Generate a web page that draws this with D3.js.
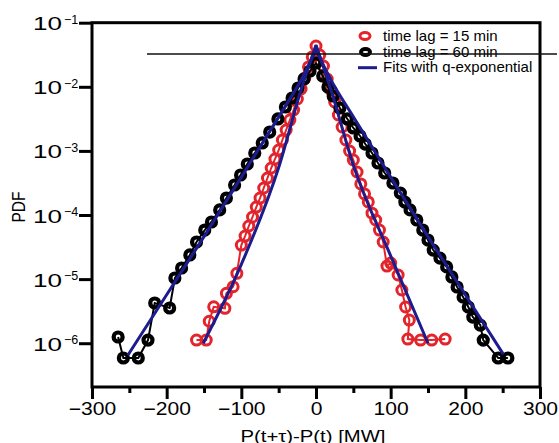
<!DOCTYPE html>
<html><head><meta charset="utf-8">
<script src="https://cdn.jsdelivr.net/npm/d3@7/dist/d3.min.js"></script>
<style>
body{margin:0;background:#fff}
svg{display:block}
text{font-family:"Liberation Sans",Arial,Helvetica,sans-serif;fill:#000}
</style>
</head><body>
<svg id="c" width="559" height="443"></svg>
<script>
// ---------- data ----------
const xTicks = [-300, -200, -100, 0, 100, 200, 300];
const xMinorTicks = [-250, -150, -50, 50, 150, 250];
const yTicks = [1e-1, 1e-2, 1e-3, 1e-4, 1e-5, 1e-6];
const yTickExp = ["\u22121", "\u22122", "\u22123", "\u22124", "\u22125", "\u22126"];

// time lag = 15 min (red)
const lag15X = [-160, -147, -143, -137, -122, -120, -111, -106, -100, -95, -90, -85, -80, -75, -70, -65, -60, -55, -50, -45, -40, -35, -30, -25, -20, -15, -10, -5,
  0, 5, 10, 15, 20, 25, 30, 35, 40, 45, 50, 55, 60, 65, 70, 75, 80, 85, 90, 95, 100, 110, 115, 120, 125, 123, 140, 155, 173];
const lag15Y = [1.12e-6, 1.12e-6, 2.2e-6, 3.7e-6, 3.5e-6, 6.0e-6, 7.6e-6, 1.23e-5, 3.4e-5, 4.7e-5, 6.74e-5, 9.31e-5, 1.33e-4, 1.84e-4, 2.64e-4, 3.78e-4, 5.41e-4, 7.47e-4, 1.03e-3, 1.48e-3, 2.12e-3, 3.03e-3, 4.35e-3, 6.45e-3, 9.24e-3, 1.372e-2, 2.04e-2, 2.92e-2,
  4.33e-2, 3.13e-2, 2.11e-2, 1.324e-2, 8.91e-3, 5.79e-3, 3.63e-3, 2.36e-3, 1.48e-3, 9.96e-4, 7.21e-4, 4.69e-4, 3.05e-4, 2.13e-4, 1.60e-4, 1.07e-4, 8.36e-5, 5.83e-5, 3.79e-5, 1.6e-5, 1.78e-5, 1.16e-5, 6.76e-6, 3.67e-6, 2.30e-6, 1.16e-6, 1.12e-6, 1.12e-6, 1.16e-6];

// time lag = 60 min (black)
const lag60X = [-265, -258, -238, -225, -216, -196, -189, -180, -169, -160, -149, -140, -129, -120, -109, -101, -92, -82, -72, -62, -51, -41, -32, -24, -16, -8,
  0, 9, 16, 23, 32, 42, 50, 59, 66, 75, 83, 92, 103, 113, 119, 126, 135, 143, 150, 157, 166, 175, 182, 189, 197, 204, 210, 220, 224, 244, 257];
const lag60Y = [1.25e-6, 5.88e-7, 5.88e-7, 1.12e-6, 4.24e-6, 3.54e-6, 1.04e-5, 1.49e-5, 2.38e-5, 3.79e-5, 5.83e-5, 7.78e-5, 1.20e-4, 1.84e-4, 2.94e-4, 4.21e-4, 6.25e-4, 9.27e-4, 1.33e-3, 1.97e-3, 3.15e-3, 4.84e-3, 6.69e-3, 9.58e-3, 1.323e-2, 1.764e-2,
  2.35e-2, 1.474e-2, 9.93e-3, 7.19e-3, 4.67e-3, 3.15e-3, 2.28e-3, 1.71e-3, 1.28e-3, 9.27e-4, 6.48e-4, 4.52e-4, 3.16e-4, 2.20e-4, 1.59e-4, 1.20e-4, 8.36e-5, 5.83e-5, 4.07e-5, 2.84e-5, 2.13e-5, 1.55e-5, 1.08e-5, 7.53e-6, 5.26e-6, 3.67e-6, 2.56e-6, 1.92e-6, 1.12e-6, 5.88e-7, 5.88e-7];

// q-exponential fits (blue)
const fit15X = [-151, -100, -50, -20, 0, 20, 50, 100, 150];
const fit15Y = [1.0e-6, 1.7e-5, 5.5e-4, 9.0e-3, 4.5e-2, 9.0e-3, 6.0e-4, 2.3e-5, 1.0e-6];
const fit60X = [-252, -200, -150, -100, -50, -20, 0, 20, 50, 100, 150, 200, 251];
const fit60Y = [6.5e-7, 5.7e-6, 4.6e-5, 3.9e-4, 3.4e-3, 1.28e-2, 3.75e-2, 1.28e-2, 3.4e-3, 3.9e-4, 4.6e-5, 5.7e-6, 6.7e-7];

const legendLabels = ["time lag = 15 min", "time lag = 60 min", "Fits with q-exponential"];
const xTitle = "P(t+\u03c4)-P(t) [MW]";
const yTitle = "PDF";

// ---------- styles ----------
const RED = "#e3242b", BLACK = "#000", BLUE = "#1c1c8e";

const svg = d3.select("#c");
const x = d3.scaleLinear().domain([-300, 300]).range([92, 540]);
const y = d3.scaleLog().domain([Math.pow(10, -6.683), 0.1]).range([387, 22.7]);

const [x0, x1] = x.range();
const [yb, yt] = y.range();

// axes
const fmt = d => d < 0 ? "\u2212" + Math.abs(d) : String(d);
const gx = svg.append("g").attr("transform", `translate(0,${yb})`)
  .call(d3.axisBottom(x).tickValues(xTicks).tickSize(12).tickPadding(3).tickFormat(fmt));
gx.select(".domain").remove();
gx.selectAll("line").attr("stroke", "#000").attr("stroke-width", 3);
gx.selectAll("text").attr("font-size", 18).attr("fill", "#000")
  .attr("font-family", '"Liberation Sans",Arial,sans-serif')
  .each(function () { const L = this.getComputedTextLength(); d3.select(this).attr("textLength", L * 1.17).attr("lengthAdjust", "spacingAndGlyphs"); });

const gxm = svg.append("g").attr("transform", `translate(0,${yb})`)
  .call(d3.axisBottom(x).tickValues(xMinorTicks).tickSize(6).tickFormat(""));
gxm.select(".domain").remove();
gxm.selectAll("line").attr("stroke", "#000").attr("stroke-width", 3);

const gy = svg.append("g").attr("transform", `translate(${x0},0)`)
  .call(d3.axisLeft(y).tickValues(yTicks).tickSize(13).tickFormat(""));
gy.select(".domain").remove();
gy.selectAll("line").attr("stroke", "#000").attr("stroke-width", 3);

yTicks.forEach((t, i) => {
  const yy = y(t);
  svg.append("text").attr("x", 33).attr("y", yy + 7.5).attr("font-size", 19)
    .attr("textLength", 29).attr("lengthAdjust", "spacingAndGlyphs").text("10");
  svg.append("text").attr("x", 64).attr("y", yy + 0.8).attr("font-size", 12.5).text(yTickExp[i]);
});

// frame
svg.append("rect").attr("x", x0).attr("y", yt).attr("width", x1 - x0).attr("height", yb - yt)
  .attr("fill", "none").attr("stroke", "#000").attr("stroke-width", 3);

// titles
svg.append("text").attr("x", (x0 + x1) / 2 - 3).attr("y", 441.5).attr("text-anchor", "middle")
  .attr("font-size", 16).attr("textLength", 145).attr("lengthAdjust", "spacingAndGlyphs").text(xTitle);
svg.append("text").attr("transform", "translate(25,207) scale(1.2,1) rotate(-90)")
  .attr("text-anchor", "middle").attr("font-size", 15.5).text(yTitle);

// series
const ptsOf = (X, Y) => X.map((v, i) => [v, Y[i]]);
const line = d3.line().x(d => x(d[0])).y(d => y(d[1]));

function series(X, Y, color, r, sw, lw) {
  const pts = ptsOf(X, Y);
  svg.append("path").attr("d", line(pts)).attr("fill", "none").attr("stroke", color).attr("stroke-width", lw);
  svg.append("g").selectAll("circle").data(pts).join("circle")
    .attr("cx", d => x(d[0])).attr("cy", d => y(d[1])).attr("r", r)
    .attr("fill", "none").attr("stroke", color).attr("stroke-width", sw);
}
series(lag15X, lag15Y, RED, 5, 3, 2);
series(lag60X, lag60Y, BLACK, 4.5, 4.2, 2);

const fitLine = d3.line().x(d => x(d[0])).y(d => y(d[1])).curve(d3.curveMonotoneX);
function fit(X, Y) {
  const pts = ptsOf(X, Y);
  const k = X.indexOf(0);
  [pts.slice(0, k + 1), pts.slice(k)].forEach(part => {
    svg.append("path").attr("d", fitLine(part)).attr("fill", "none")
      .attr("stroke", BLUE).attr("stroke-width", 3).attr("stroke-linejoin", "round");
  });
}
fit(fit60X, fit60Y);
fit(fit15X, fit15Y);

// legend
const lg = svg.append("g");
lg.append("ellipse").attr("cx", 365).attr("cy", 36).attr("rx", 5).attr("ry", 3.4)
  .attr("fill", "none").attr("stroke", RED).attr("stroke-width", 3);
lg.append("ellipse").attr("cx", 365.5).attr("cy", 52).attr("rx", 4.6).attr("ry", 3)
  .attr("fill", "none").attr("stroke", BLACK).attr("stroke-width", 3.8);
lg.append("line").attr("x1", 358).attr("x2", 377).attr("y1", 67.7).attr("y2", 67.7)
  .attr("stroke", BLUE).attr("stroke-width", 3);
[40.8, 56.8, 71.7].forEach((by, i) => {
  lg.append("text").attr("x", 383).attr("y", by).attr("font-size", 15).text(legendLabels[i]);
});

// stray horizontal rule present in the picture
svg.append("line").attr("x1", 147).attr("x2", 557).attr("y1", 54).attr("y2", 54)
  .attr("stroke", "#111").attr("stroke-width", 1.3);
</script>
</body></html>
